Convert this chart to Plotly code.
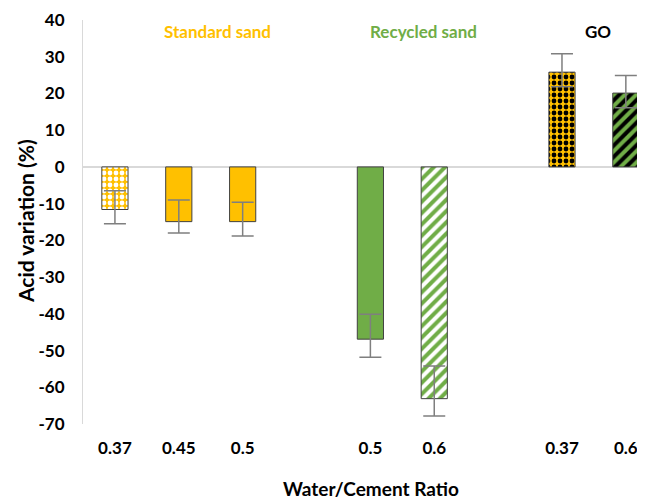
import plotly.graph_objects as go

# ---- data ----
groups = ["Standard sand", "Recycled sand", "GO"]
ratios = [["0.37", "0.45", "0.5"], ["0.5", "0.6"], ["0.37", "0.6"]]
values = [[-11.6, -14.9, -14.9], [-46.9, -63.1], [25.8, 20.1]]
err_up = [[5.1, 5.9, 5.3], [6.8, 8.9], [5.0, 4.8]]
err_down = [[3.9, 3.1, 3.9], [4.9, 4.7], [4.0, 4.0]]
y_tick_vals = [-70, -60, -50, -40, -30, -20, -10, 0, 10, 20, 30, 40]
y_tick_text = ["-70", "-60", "-50", "-40", "-30", "-20", "-10", "0", "10", "20", "30", "40"]

ORANGE = "#FFC000"
GREEN = "#70AD47"
# per-bar styling (fill colour, pattern shape, pattern fg)
styles = [
    [(ORANGE, ".", "white"), (ORANGE, "", None), (ORANGE, "", None)],
    [(GREEN, "", None), ("white", "/", GREEN)],
    [(ORANGE, ".", "black"), (GREEN, "/", "black")],
]
group_label_colors = [ORANGE, GREEN, "black"]

FONT = "Lato"
# the page body adds an 8px margin, so the figure is 8px smaller and
# all reference pixel positions are shifted by -8
OFF = 8
W, H = 645 - OFF, 500 - OFF
L, R, T, B = 83 - OFF, 0, 20 - OFF, 500 - 424

fig = go.Figure()
xs, ticks, label_x = [], [], []
pos = 0
for gi, g in enumerate(groups):
    start = pos
    for j, r in enumerate(ratios[gi]):
        xs.append(pos)
        ticks.append(r)
        c, s, fg = styles[gi][j]
        pattern = dict(shape=s, fgcolor=fg, bgcolor=c, size=6 if s == "." else 8,
                       solidity=0.5, fillmode="replace") if s else dict(shape="")
        fig.add_trace(go.Bar(
            x=[pos], y=[values[gi][j]], width=0.41,
            marker=dict(color=c, line=dict(color="#404040", width=1), pattern=pattern),
            error_y=dict(type="data", symmetric=False,
                         array=[err_up[gi][j]], arrayminus=[err_down[gi][j]],
                         color="#7F7F7F", thickness=1.5, width=11),
            showlegend=False,
        ))
        pos += 1
    label_x.append((start + pos - 1) / 2)
    pos += 1

# group labels
label_offsets = [0.6, 0.33, 0.06]
for gi, g in enumerate(groups):
    fig.add_annotation(
        x=label_x[gi] + label_offsets[gi], y=36.8, xref="x", yref="y",
        text=g, showarrow=False,
        font=dict(family=FONT, size=17, color=group_label_colors[gi], weight="bold"),
    )

pw, ph = W - L - R, H - T - B
plot_bottom = H - B
# axis titles (as annotations for exact placement)
fig.add_annotation(
    x=(371 - OFF - L) / pw, y=-(489 - OFF - plot_bottom) / ph, xref="paper", yref="paper",
    text="Water/Cement Ratio", showarrow=False, xanchor="center", yanchor="middle",
    font=dict(family=FONT, size=19, color="black", weight="bold"),
)
fig.add_annotation(
    x=-(L - (25 - OFF)) / pw, y=(plot_bottom - (221 - OFF)) / ph, xref="paper", yref="paper",
    text="Acid variation (%)", textangle=-90, showarrow=False,
    xanchor="center", yanchor="middle",
    font=dict(family=FONT, size=21, color="black", weight="bold"),
)

fig.update_layout(
    width=W, height=H,
    margin=dict(l=L, r=R, t=T, b=B, autoexpand=False),
    plot_bgcolor="white", paper_bgcolor="white",
    font=dict(family=FONT, size=17, color="black"),
    barmode="overlay",
)
fig.update_xaxes(
    range=[-0.5, 8.3], tickmode="array", tickvals=xs, ticktext=ticks,
    showgrid=False, zeroline=False, showline=False, ticks="",
    tickfont=dict(family=FONT, size=17, color="black", weight="bold"),
    ticklabelstandoff=12, automargin=False,
)
fig.update_yaxes(
    range=[-70, 40], tickmode="array", tickvals=y_tick_vals, ticktext=y_tick_text,
    showgrid=False,
    zeroline=True, zerolinecolor="#D9D9D9", zerolinewidth=1.5,
    showline=True, linecolor="#D9D9D9", linewidth=1,
    ticks="", ticklabelstandoff=14, automargin=False,
    tickfont=dict(family=FONT, size=17, color="black", weight="bold"),
)

fig.write_html("out.html")
